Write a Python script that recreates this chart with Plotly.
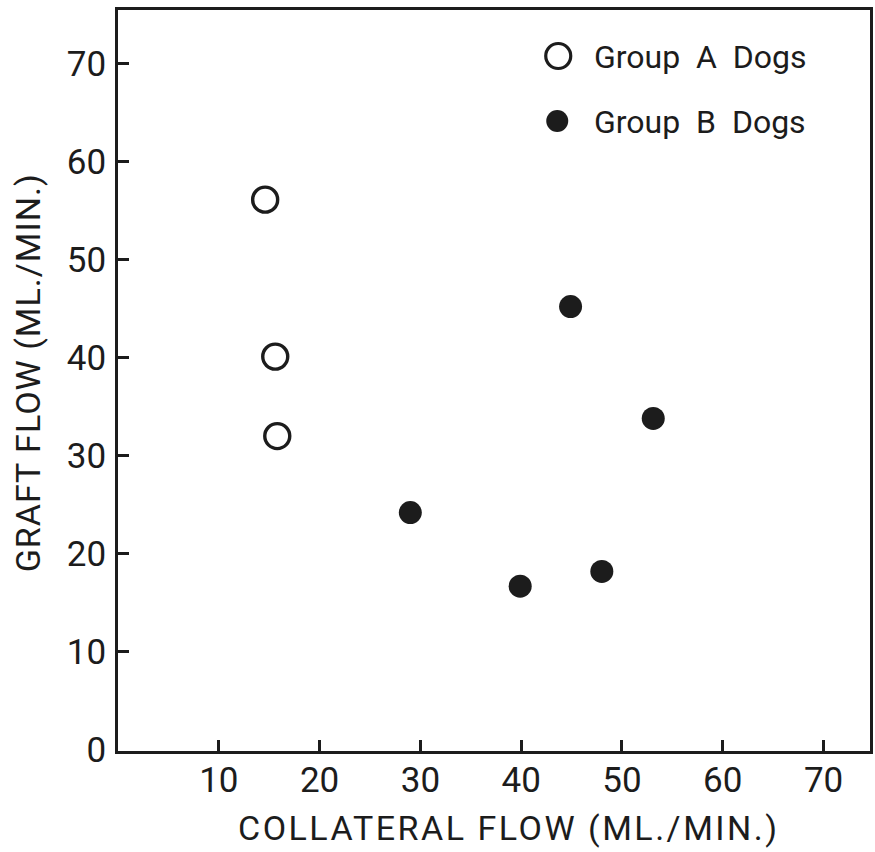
import plotly.graph_objects as go

# Collateral vs graft flow per dog (ml/min)
group_a_name = "Group A Dogs"
group_a_collateral = [14.6, 15.6, 15.8]
group_a_graft = [56.1, 40.1, 32.0]

group_b_name = "Group B Dogs"
group_b_collateral = [44.9, 53.1, 29.0, 39.9, 48.0]
group_b_graft = [45.2, 33.8, 24.2, 16.7, 18.2]

x_ticks = [10, 20, 30, 40, 50, 60, 70]
y_ticks = [0, 10, 20, 30, 40, 50, 60, 70]
x_title = "COLLATERAL FLOW (ML./MIN.)"
y_title = "GRAFT FLOW (ML./MIN.)"

INK = "#1c1c1c"
FONT = "Roboto, Liberation Sans, Arial, sans-serif"

W, H = 875, 852
ML, MR, MT, MB = 118, 2, 10, 101
PW, PH = W - ML - MR, H - MT - MB


def px_to_paper(px, py):
    return (px - ML) / PW, (H - MB - py) / PH


def spaced(text, px):
    return f'<span style="letter-spacing:{px}px">{text}</span>'


fig = go.Figure()
fig.add_trace(go.Scatter(
    x=group_a_collateral, y=group_a_graft, mode="markers", name=group_a_name,
    marker=dict(symbol="circle-open", size=25, color=INK, line=dict(width=3.4, color=INK)),
    showlegend=False,
))
fig.add_trace(go.Scatter(
    x=group_b_collateral, y=group_b_graft, mode="markers", name=group_b_name,
    marker=dict(symbol="circle", size=23, color=INK, line=dict(width=0)),
    showlegend=False,
))

# Key in the upper right corner: symbols as pixel-sized shapes, names as text
key = [
    (group_a_name, 560, 56, 12.5, False),
    (group_b_name, 559, 121, 11, True),
]
shapes = []
annotations = []
for name, cx, cy, r, filled in key:
    px_, py_ = px_to_paper(cx, cy)
    shapes.append(dict(
        type="circle", xref="paper", yref="paper",
        xsizemode="pixel", ysizemode="pixel",
        xanchor=px_, yanchor=py_, x0=-r, x1=r, y0=-r, y1=r,
        line=dict(color=INK, width=0 if filled else 3.2),
        fillcolor=INK if filled else "rgba(0,0,0,0)",
    ))
    tx, ty = px_to_paper(594, cy + 1)
    annotations.append(dict(
        xref="paper", yref="paper", x=tx, y=ty, xanchor="left", yanchor="middle",
        text=name.replace(" ", "\u00a0\u00a0"), showarrow=False,
        font=dict(family=FONT, size=32, color=INK),
    ))

# Axis titles
tx, ty = px_to_paper(511, 828)
annotations.append(dict(
    xref="paper", yref="paper", x=tx, y=ty, xanchor="center", yanchor="middle",
    text=spaced(x_title, 2.5), showarrow=False,
    font=dict(family=FONT, size=34, color=INK),
))
tx, ty = px_to_paper(28, 373)
annotations.append(dict(
    xref="paper", yref="paper", x=tx, y=ty, xanchor="center", yanchor="middle",
    text=spaced(y_title, 1), textangle=-90, showarrow=False,
    font=dict(family=FONT, size=34, color=INK),
))

axis_common = dict(
    showgrid=False, zeroline=False, showline=True, linecolor=INK, linewidth=2.6,
    mirror=True, ticks="inside", ticklen=11, tickwidth=2.6, tickcolor=INK,
    tickfont=dict(family=FONT, size=35, color=INK),
)

fig.update_layout(
    width=W, height=H,
    margin=dict(l=ML, r=MR, t=MT, b=MB),
    paper_bgcolor="white", plot_bgcolor="white",
    xaxis=dict(range=[0, PW / 10.12], tickvals=x_ticks, ticklabelstandoff=-4, **axis_common),
    yaxis=dict(range=[-1 / 9.81, (H - MB - MT - 1) / 9.81], tickvals=y_ticks,
               ticklabelstandoff=2, **axis_common),
    shapes=shapes, annotations=annotations, showlegend=False,
)

fig.write_html("out.html")
